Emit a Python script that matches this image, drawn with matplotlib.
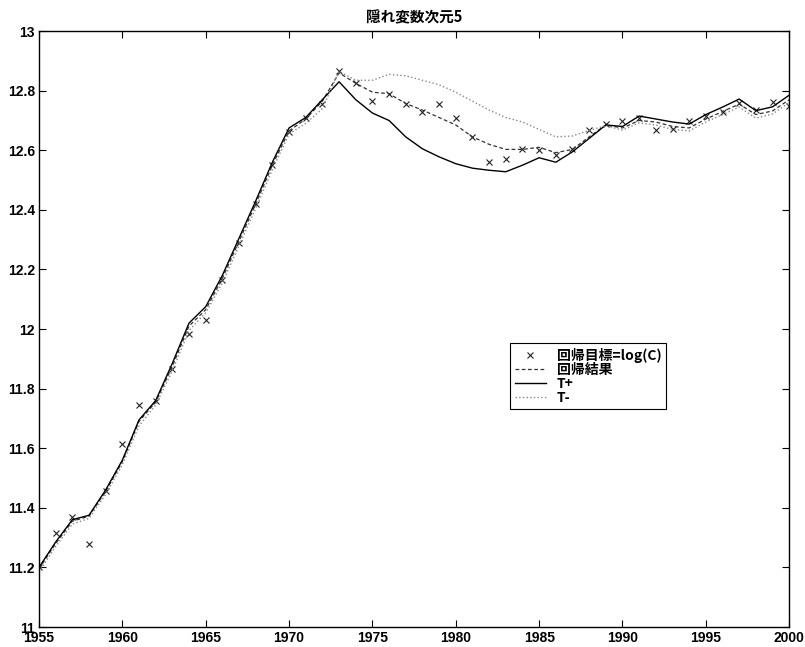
import matplotlib
matplotlib.use("Agg")
import matplotlib.pyplot as plt
import numpy as np

plt.rcParams["font.family"] = ["Liberation Sans", "Noto Sans CJK JP"]

# ── data ─────────────────────────────────────────────────────────────────────
years = list(range(1955, 2001))

target = [
    11.20, 11.315, 11.37, 11.28, 11.455, 11.615, 11.745, 11.76, 11.865, 11.985,
    12.03, 12.165, 12.29, 12.42, 12.55, 12.66, 12.71, 12.755, 12.865, 12.827,
    12.765, 12.79, 12.757, 12.73, 12.757, 12.71, 12.645, 12.56, 12.57, 12.603,
    12.60, 12.585, 12.603, 12.668, 12.688, 12.70, 12.71, 12.668, 12.673, 12.70,
    12.715, 12.73, 12.76, 12.735, 12.763, 12.75,
]

regression = [
    11.195, 11.28, 11.355, 11.372, 11.455, 11.555, 11.69, 11.755, 11.875, 12.01,
    12.065, 12.17, 12.295, 12.42, 12.55, 12.665, 12.705, 12.765, 12.86, 12.825,
    12.795, 12.79, 12.757, 12.735, 12.71, 12.685, 12.645, 12.62, 12.603, 12.603,
    12.61, 12.592, 12.603, 12.645, 12.685, 12.675, 12.70, 12.695, 12.68, 12.675,
    12.705, 12.73, 12.755, 12.72, 12.732, 12.77,
]

t_plus = [
    11.20, 11.285, 11.36, 11.375, 11.46, 11.56, 11.695, 11.76, 11.885, 12.02,
    12.075, 12.18, 12.305, 12.43, 12.56, 12.675, 12.71, 12.77, 12.83, 12.77,
    12.725, 12.70, 12.645, 12.605, 12.578, 12.555, 12.54, 12.533, 12.528, 12.55,
    12.575, 12.56, 12.595, 12.64, 12.685, 12.68, 12.715, 12.705, 12.695, 12.688,
    12.72, 12.745, 12.772, 12.733, 12.746, 12.785,
]

t_minus = [
    11.185, 11.27, 11.345, 11.365, 11.445, 11.545, 11.675, 11.745, 11.86, 11.995,
    12.055, 12.155, 12.28, 12.405, 12.535, 12.655, 12.69, 12.74, 12.865, 12.835,
    12.835, 12.855, 12.85, 12.835, 12.82, 12.795, 12.765, 12.735, 12.71, 12.695,
    12.67, 12.645, 12.648, 12.667, 12.682, 12.668, 12.692, 12.685, 12.67, 12.665,
    12.695, 12.72, 12.745, 12.708, 12.722, 12.76,
]

x_ticks = [1955, 1960, 1965, 1970, 1975, 1980, 1985, 1990, 1995, 2000]
y_ticks = [11, 11.2, 11.4, 11.6, 11.8, 12, 12.2, 12.4, 12.6, 12.8, 13]
y_labels = ["11", "11.2", "11.4", "11.6", "11.8", "12", "12.2", "12.4",
            "12.6", "12.8", "13"]

# ── figure ───────────────────────────────────────────────────────────────────
fig = plt.figure(figsize=(8.05, 6.47), dpi=100, facecolor="white")
ax = fig.add_axes([0.0484, 0.0309, 0.932, 0.921])

ax.plot(years, target, "x", color="#222222", markersize=5, markeredgewidth=0.8,
        label="回帰目標=log(C)")
ax.plot(years, regression, "--", color="#333333", lw=0.9, dashes=(3, 2),
        label="回帰結果")
ax.plot(years, t_plus, "-", color="black", lw=1.0, label="T+")
ax.plot(years, t_minus, ":", color="#888888", lw=1.0, label="T-")

ax.set_xlim(1955, 2000)
ax.set_ylim(11, 13)
ax.set_xticks(x_ticks)
ax.set_yticks(y_ticks)
ax.set_yticklabels(y_labels)
ax.tick_params(direction="in", length=5, width=0.8, top=True, right=True,
               labelsize=10, pad=3)
for lab in ax.get_xticklabels() + ax.get_yticklabels():
    lab.set_fontweight("bold")
for sp in ax.spines.values():
    sp.set_linewidth(1.0)

ax.set_title("隠れ変数次元5", fontsize=10.5, fontweight="bold",
             family=["Noto Sans CJK JP", "DejaVu Sans"], pad=6)

leg = ax.legend(loc="upper left", bbox_to_anchor=(0.628, 0.477),
                borderaxespad=0, fancybox=False, framealpha=1,
                edgecolor="black", handlelength=2.2, handletextpad=0.8,
                labelspacing=0.0, borderpad=0.35,
                prop={"family": ["Noto Sans CJK JP", "DejaVu Sans"],
                      "size": 10, "weight": "bold"})
leg.get_frame().set_linewidth(0.8)

fig.savefig("out.png", dpi=100)
